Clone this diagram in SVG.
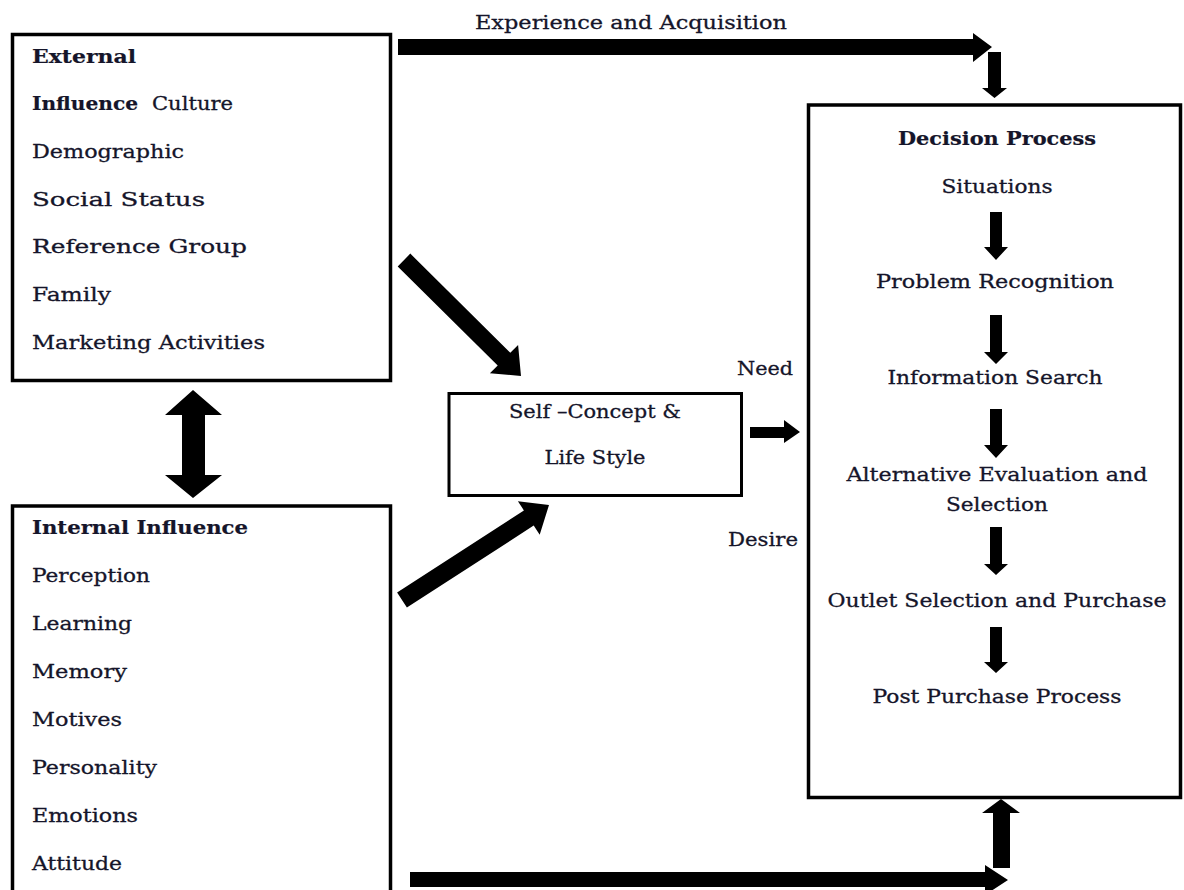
<svg xmlns="http://www.w3.org/2000/svg" width="1184" height="890" viewBox="0 0 1184 890">
<style>
.box{fill:#fff;stroke:#000;stroke-width:3.5}
.sbox{fill:#fff;stroke:#000;stroke-width:3}
.t{font-family:"DejaVu Serif","Liberation Serif",serif;font-size:19px;fill:#15152a;stroke:#15152a;stroke-width:0.3}
.b{font-weight:bold;stroke-width:0.2}
.m{text-anchor:middle}
.arr{fill:#000}
</style>
<rect width="1184" height="890" fill="#fff"/>
<g id="external">
<rect class="box" x="12.5" y="34.5" width="378" height="346"/>
<text class="t b" x="32" y="63" textLength="104" lengthAdjust="spacingAndGlyphs">External</text>
<text class="t b" x="32" y="110" textLength="106" lengthAdjust="spacingAndGlyphs">Influence</text>
<text class="t" x="152" y="110" textLength="81" lengthAdjust="spacingAndGlyphs">Culture</text>
<text class="t" x="32" y="158" textLength="152" lengthAdjust="spacingAndGlyphs">Demographic</text>
<text class="t" x="32" y="206" textLength="173" lengthAdjust="spacingAndGlyphs">Social Status</text>
<text class="t" x="32" y="253" textLength="215" lengthAdjust="spacingAndGlyphs">Reference Group</text>
<text class="t" x="32" y="301" textLength="79" lengthAdjust="spacingAndGlyphs">Family</text>
<text class="t" x="32" y="349" textLength="233" lengthAdjust="spacingAndGlyphs">Marketing Activities</text>
</g>
<g id="internal">
<rect class="box" x="12.5" y="506" width="378" height="400"/>
<text class="t b" x="32" y="534" textLength="216" lengthAdjust="spacingAndGlyphs">Internal Influence</text>
<text class="t" x="32" y="582" textLength="118" lengthAdjust="spacingAndGlyphs">Perception</text>
<text class="t" x="32" y="630" textLength="100" lengthAdjust="spacingAndGlyphs">Learning</text>
<text class="t" x="32" y="678" textLength="95" lengthAdjust="spacingAndGlyphs">Memory</text>
<text class="t" x="32" y="726" textLength="90" lengthAdjust="spacingAndGlyphs">Motives</text>
<text class="t" x="32" y="774" textLength="125" lengthAdjust="spacingAndGlyphs">Personality</text>
<text class="t" x="32" y="822" textLength="106" lengthAdjust="spacingAndGlyphs">Emotions</text>
<text class="t" x="32" y="870" textLength="90" lengthAdjust="spacingAndGlyphs">Attitude</text>
</g>
<g id="self-concept">
<rect class="sbox" x="449" y="393.5" width="292.5" height="102"/>
<text class="t m" x="595" y="418" textLength="172" lengthAdjust="spacingAndGlyphs">Self –Concept &amp;</text>
<text class="t m" x="595" y="464" textLength="101" lengthAdjust="spacingAndGlyphs">Life Style</text>
</g>
<g id="decision">
<rect class="box" x="808.5" y="105" width="372" height="692.5"/>
<text class="t b m" x="997" y="145" textLength="198" lengthAdjust="spacingAndGlyphs">Decision Process</text>
<text class="t m" x="997" y="193" textLength="111" lengthAdjust="spacingAndGlyphs">Situations</text>
<text class="t m" x="995" y="288" textLength="238" lengthAdjust="spacingAndGlyphs">Problem Recognition</text>
<text class="t m" x="995" y="384" textLength="215" lengthAdjust="spacingAndGlyphs">Information Search</text>
<text class="t m" x="997" y="481" textLength="301" lengthAdjust="spacingAndGlyphs">Alternative Evaluation and</text>
<text class="t m" x="997" y="511" textLength="102" lengthAdjust="spacingAndGlyphs">Selection</text>
<text class="t m" x="997" y="607" textLength="339" lengthAdjust="spacingAndGlyphs">Outlet Selection and Purchase</text>
<text class="t m" x="997" y="703" textLength="249" lengthAdjust="spacingAndGlyphs">Post Purchase Process</text>
<polygon class="arr" points="990,212 1002,212 1002,247 1008,247 996,260 984,247 990,247"/>
<polygon class="arr" points="990,315 1002,315 1002,352 1008,352 996,364 984,352 990,352"/>
<polygon class="arr" points="990,409 1002,409 1002,445 1008,445 996,458 984,445 990,445"/>
<polygon class="arr" points="990,527 1002,527 1002,564 1008,564 996,575 984,564 990,564"/>
<polygon class="arr" points="990,627 1002,627 1002,662 1008,662 996,673 984,662 990,662"/>
</g>
<g id="connectors">
<polygon class="arr" points="398,39 973,39 973,33 992,47 973,62 973,55 398,55"/>
<polygon class="arr" points="988,52 1001,52 1001,88 1007,88 994.5,98 982,88 988,88"/>
<polygon class="arr" points="193,390 222,415 205,415 205,475 222,475 193,498 165,475 182,475 182,415 165,415"/>
<polygon class="arr" points="410.3,253.6 510.3,352.7 518.1,344.9 521,376 489.9,373.3 497.7,365.5 397.7,266.4"/>
<polygon class="arr" points="397.1,592.4 523.9,510.4 517.9,501.2 549,505 539.7,534.8 533.7,525.6 406.9,607.6"/>
<polygon class="arr" points="750,427 784,427 784,420 800,432 784,443 784,438 750,438"/>
<polygon class="arr" points="410,872 985,872 985,865 1008,880 985,895 985,887 410,887"/>
<polygon class="arr" points="993,868 993,813 982,813 1001,799 1020,813 1010,813 1010,868"/>
<text class="t m" x="631" y="29" textLength="312" lengthAdjust="spacingAndGlyphs">Experience and Acquisition</text>
<text class="t" x="737" y="375" textLength="56" lengthAdjust="spacingAndGlyphs">Need</text>
<text class="t" x="728" y="546" textLength="70" lengthAdjust="spacingAndGlyphs">Desire</text>
</g>
</svg>
